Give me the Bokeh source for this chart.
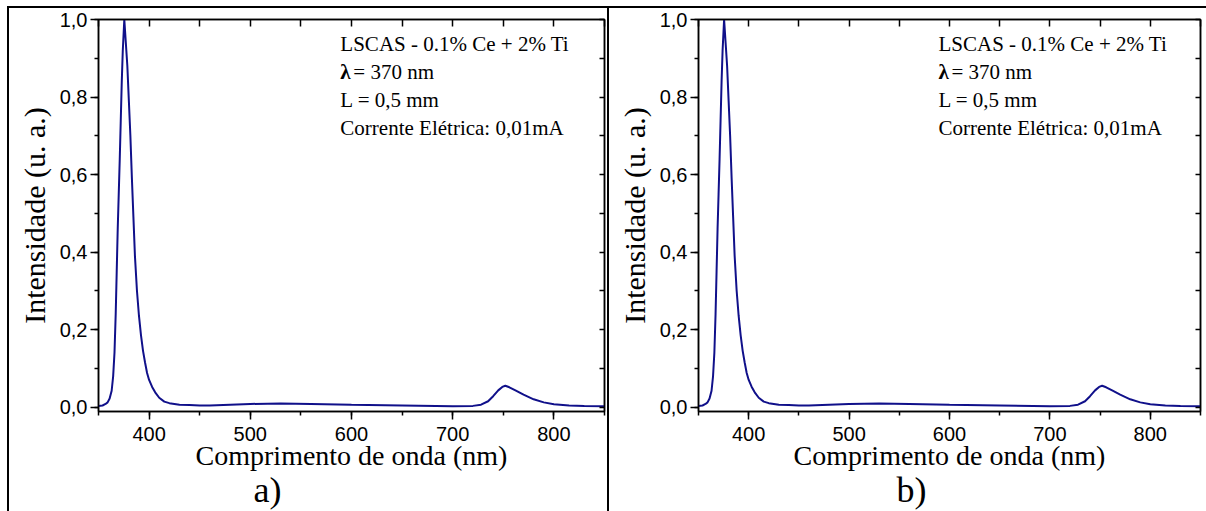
from bokeh.plotting import figure
from bokeh.layouts import row
from bokeh.models import (Range1d, LinearAxis, SingleIntervalTicker, CustomJSTickFormatter,
                          Title, ColumnDataSource)
from bokeh.core.properties import value
from bokeh.embed import file_html
from bokeh.resources import INLINE

# ---- data (wavelength in nm, normalised intensity) ----
wavelength = [350, 354, 357, 359, 361, 363, 364.5, 365.8, 367, 368, 369, 370, 371, 372, 373, 374,
              375.5, 377, 378.5, 380, 381.5, 383, 384.5, 386, 388, 390, 392, 394, 396, 398, 400,
              403, 406, 410, 415, 420, 430, 440, 450, 460, 480, 500, 530, 560, 600, 650, 700,
              720, 728, 735, 740, 745, 749, 752, 756, 762, 770, 780, 790, 800, 815, 830, 850]
intensity_a = [0.003, 0.004, 0.008, 0.012, 0.022, 0.042, 0.08, 0.14, 0.24, 0.35, 0.46, 0.55, 0.64,
               0.74, 0.84, 0.92, 1.0, 0.94, 0.88, 0.79, 0.70, 0.59, 0.49, 0.39, 0.30, 0.235, 0.185,
               0.145, 0.115, 0.088, 0.07, 0.052, 0.038, 0.024, 0.014, 0.010, 0.006, 0.005, 0.004,
               0.004, 0.006, 0.008, 0.009, 0.008, 0.006, 0.004, 0.002, 0.003, 0.006, 0.015, 0.028,
               0.043, 0.052, 0.055, 0.051, 0.043, 0.032, 0.020, 0.012, 0.007, 0.004, 0.003, 0.002]
intensity_b = list(intensity_a)

x_label = "Comprimento de onda (nm)"
y_label = "Intensidade (u. a.)"
info_lines = ["LSCAS - 0.1% Ce + 2% Ti", "L = 0,5 mm", "Corrente Elétrica: 0,01mA"]
info_y = [0.936, 0.791, 0.719]
lambda_symbol = "λ"
lambda_rest = " = 370 nm"
lambda_y = 0.864
info_x = 589
panel_labels = ["a)", "b)"]

LINE = "#10108a"
SERIF = "'Liberation Serif'"
SANS = "'Liberation Sans'"

comma_fmt = CustomJSTickFormatter(code="return tick.toFixed(1).replace('.', ',');")
int_fmt = CustomJSTickFormatter(code="return tick.toFixed(0);")
blank_fmt = CustomJSTickFormatter(code="return '';")


def make_panel(intensity, label, width, min_left, min_right, label_offset, css):
    p = figure(width=width, height=505, output_backend="svg", toolbar_location=None,
               x_range=Range1d(350, 850), y_range=Range1d(-0.0115, 1.0),
               min_border_left=min_left, min_border_right=min_right,
               min_border_top=11, min_border_bottom=102,
               x_axis_label=x_label, y_axis_label=y_label)
    p.styles = css
    p.grid.visible = False
    p.outline_line_color = "black"
    p.outline_line_width = 1.5
    p.background_fill_color = "white"
    p.border_fill_color = "white"

    xa = p.xaxis[0]
    xa.ticker = SingleIntervalTicker(interval=100, num_minor_ticks=2)
    xa.formatter = int_fmt
    ya = p.yaxis[0]
    ya.ticker = SingleIntervalTicker(interval=0.2, num_minor_ticks=2)
    ya.formatter = comma_fmt
    for ax in (xa, ya):
        ax.axis_line_width = 1.5
        ax.major_tick_line_width = 1.5
        ax.minor_tick_line_width = 1.5
        ax.major_tick_in = 0
        ax.major_tick_out = 8
        ax.minor_tick_in = 0
        ax.minor_tick_out = 4
        ax.major_label_text_font = SANS
        ax.major_label_text_font_size = "20px"
        ax.major_label_text_color = "black"
        ax.axis_label_text_font = SERIF
        ax.axis_label_text_font_style = "normal"
        ax.axis_label_text_color = "black"
    xa.major_label_standoff = 7
    xa.axis_label_text_font_size = "28px"
    xa.axis_label_standoff = -4
    ya.major_label_standoff = 3
    ya.axis_label_text_font_size = "30px"
    ya.axis_label_standoff = 6

    top = LinearAxis(ticker=SingleIntervalTicker(interval=50, num_minor_ticks=0), formatter=blank_fmt)
    right = LinearAxis(ticker=SingleIntervalTicker(interval=0.1, num_minor_ticks=0), formatter=blank_fmt)
    for ax in (top, right):
        ax.axis_line_width = 1.5
        ax.major_tick_line_width = 1.5
        ax.major_tick_out = 0
        ax.minor_tick_in = 0
        ax.minor_tick_out = 0
        ax.major_label_text_font_size = "1px"
        ax.major_label_standoff = 0
    top.major_tick_in = 7
    right.major_tick_in = 5
    p.add_layout(top, "above")
    p.add_layout(right, "right")

    src = ColumnDataSource(dict(x=wavelength, y=intensity))
    p.line("x", "y", source=src, line_color=LINE, line_width=2)

    tsrc = ColumnDataSource(dict(x=[info_x] * len(info_lines), y=info_y, t=info_lines))
    p.text("x", "y", text="t", source=tsrc, text_font=value(SERIF), text_font_size="21px",
           text_baseline="middle", text_align="left", text_color="black")
    lsrc = ColumnDataSource(dict(x=[info_x], y=[lambda_y], t=[lambda_symbol]))
    p.text("x", "y", text="t", source=lsrc, text_font=value(SERIF), text_font_size="21px",
           text_font_style="bold", text_baseline="middle", text_align="left", text_color="black")
    rsrc = ColumnDataSource(dict(x=[info_x], y=[lambda_y], t=[lambda_rest]))
    p.text("x", "y", text="t", source=rsrc, text_font=value(SERIF), text_font_size="21px",
           x_offset=13, text_baseline="middle", text_align="left", text_color="black")

    p.add_layout(Title(text=label, align="left", offset=label_offset, text_font=SERIF,
                       text_font_size="36px", text_font_style="normal", standoff=-12,
                       text_color="black"), "below")
    return p


p1 = make_panel(intensity_a, panel_labels[0], 602, 89, 7, 155,
                {"border-left": "2px solid black", "border-top": "2px solid black",
                 "border-right": "2px solid black"})
p2 = make_panel(intensity_b, panel_labels[1], 597, 89, 6, 198,
                {"border-top": "2px solid black"})

layout = row(p1, p2, spacing=0)
layout.styles = {"margin-left": "7px", "margin-top": "6px"}
open("out.html", "w").write(file_html(layout, INLINE))
